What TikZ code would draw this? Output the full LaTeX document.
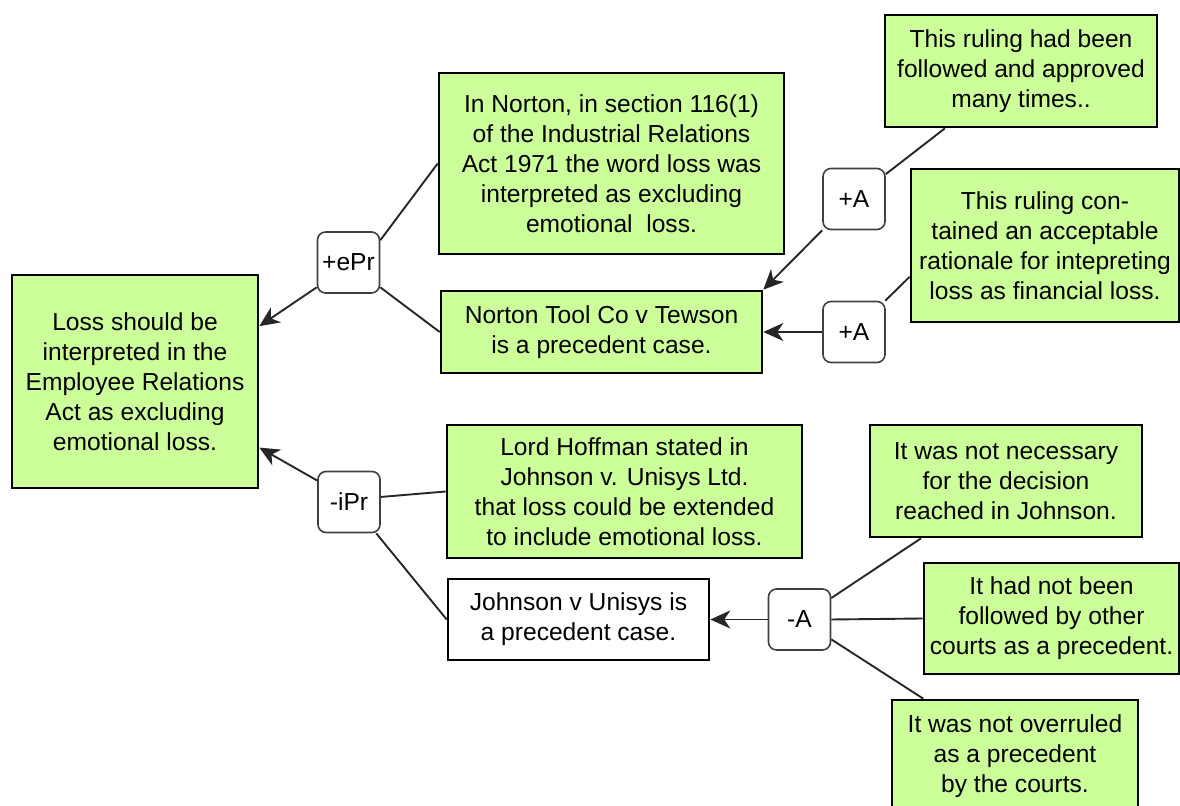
\documentclass[tikz,border=0pt]{standalone}
\usepackage{fontspec}
\setmainfont{Liberation Sans}
\usetikzlibrary{arrows.meta}
\definecolor{boxgreen}{RGB}{204,255,153}
\tikzset{
  claim/.style={draw=black, line width=1.3pt, fill=boxgreen, align=center, inner sep=0pt,
    font=\fontsize{12.3}{15}\selectfont},
  plainclaim/.style={claim, fill=white},
  rel/.style={draw=black!75, line width=0.8pt, rounded corners=4pt, fill=white, align=center,
    inner sep=0pt, minimum width=31pt, minimum height=30.5pt, font=\fontsize{12.3}{15}\selectfont},
  link/.style={draw=black!85, line width=0.95pt},
  arrowlink/.style={link, -{Stealth[length=10pt,width=9pt,inset=3pt]}}
}
\begin{document}
\begin{tikzpicture}[x=0.5pt,y=-0.5pt]
\useasboundingbox (0,0) rectangle (1180,806);
\clip (0,0) rectangle (1180,806);
% claims
\node[claim, minimum width=123pt, minimum height=106.5pt] (main) at (135,381.5)
  {Loss should be\\interpreted in the\\Employee Relations\\Act as excluding\\emotional loss.};
\node[claim, minimum width=172.5pt, minimum height=90.5pt] (norton1) at (611.5,163.5)
  {In Norton, in section 116(1)\\of the Industrial Relations\\Act 1971 the word loss was\\interpreted as excluding\\emotional\ \ loss.};
\node[claim, minimum width=160.5pt, minimum height=41pt] (norton2) at (601.5,332)
  {Norton Tool Co v Tewson\\is a precedent case.};
\node[claim, minimum width=136pt, minimum height=56pt] (ruling1) at (1021,71)
  {This ruling had been\\followed and approved\\many times..};
\node[claim, minimum width=134pt, minimum height=76.5pt] (ruling2) at (1045,245.5)
  {This ruling con-\\tained an acceptable\\rationale for intepreting\\loss as financial loss.};
\node[claim, minimum width=177.5pt, minimum height=66.5pt] (hoffman) at (624.5,491.5)
  {Lord Hoffman stated in\\Johnson v. Unisys Ltd.\\that loss could be extended\\to include emotional loss.};
\node[plainclaim, minimum width=130.5pt, minimum height=40.5pt] (johnson) at (578.5,619.5)
  {Johnson v Unisys is\\a precedent case.};
\node[claim, minimum width=136pt, minimum height=56pt] (nec) at (1006,481)
  {It was not necessary\\for the decision\\reached in Johnson.};
\node[claim, minimum width=127.5pt, minimum height=55.5pt] (follow) at (1051.5,618.5)
  {It had not been\\followed by other\\courts as a precedent.};
\node[claim, minimum width=123pt, minimum height=56pt] (overr) at (1015,756)
  {It was not overruled\\as a precedent\\by the courts.};
% relation boxes
\node[rel] (epr) at (348.5,262.5) {+ePr};
\node[rel] (ipr) at (349,502) {-iPr};
\node[rel] (a1) at (854,199) {+A};
\node[rel] (a2) at (854,332) {+A};
\node[rel] (aminus) at (799.5,619.5) {-A};
% connectors
\draw[arrowlink] (epr.218) -- (main.24);
\draw[link] (epr.35) -- (norton1.west);
\draw[link] (epr.322) -- (norton2.west);
\draw[arrowlink] (ipr.146) -- (main.332);
\draw[link] (ipr.9) -- (hoffman.west);
\draw[link] (ipr.311) -- (johnson.west);
\draw[arrowlink] (a1.south west) -- (norton2.north east);
\draw[link] (ruling1.217) -- (a1.38);
\draw[arrowlink] (a2.west) -- (norton2.east);
\draw[link] (ruling2.193) -- (a2.45);
\draw[arrowlink] (aminus.west) -- (johnson.east);
\draw[link] (nec.214) -- (aminus.34);
\draw[link] (follow.west) -- (aminus.east);
\draw[link] (overr.148) -- (aminus.328);
\end{tikzpicture}
\end{document}
